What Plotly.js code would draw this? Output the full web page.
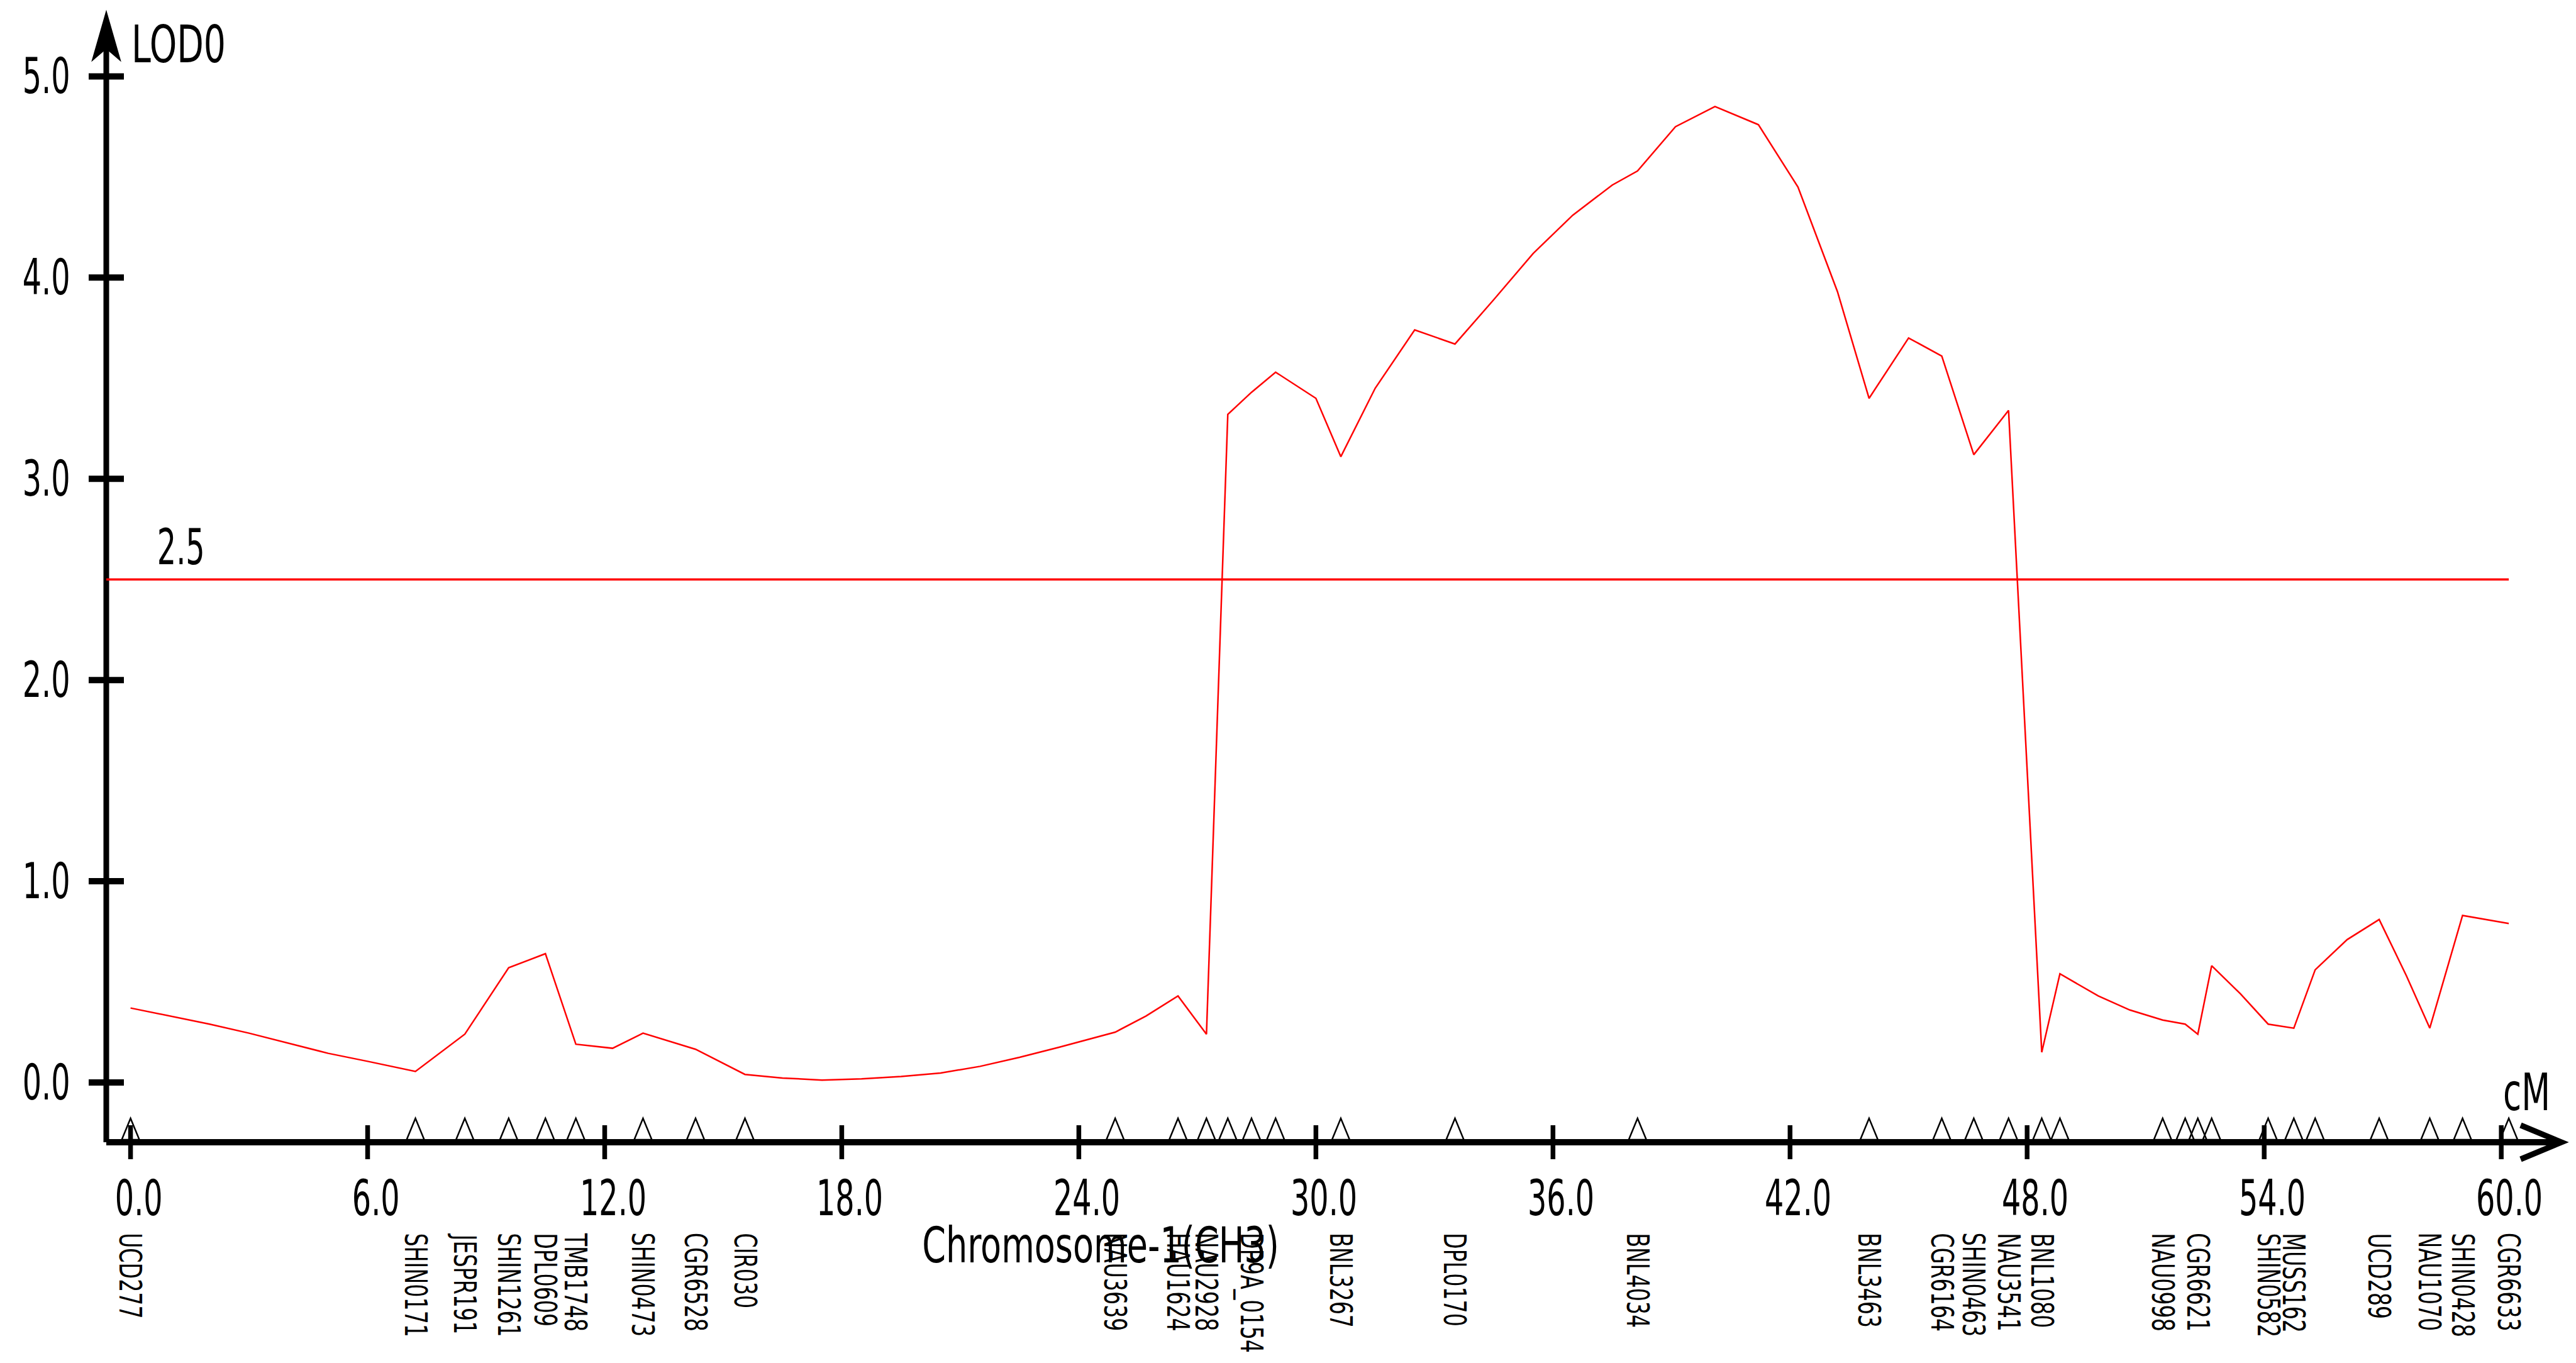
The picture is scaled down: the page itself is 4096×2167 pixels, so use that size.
<!DOCTYPE html>
<html>
<head>
<meta charset="utf-8">
<script src="https://cdn.plot.ly/plotly-3.0.1.min.js"></script>
<style>
  html, body { margin: 0; padding: 0; background: #ffffff; }
  #chart { width: 4096px; height: 2167px; }
</style>
</head>
<body>
<div id="chart"></div>
<script>
// ---------------- data ----------------
const curveCM = [0.0, 1.0, 2.0, 3.0, 4.0, 5.0, 6.0, 7.21, 8.46, 9.57, 10.50, 11.27, 12.2, 12.97, 14.30, 15.55,
  16.5, 17.5, 18.5, 19.5, 20.5, 21.5, 22.5, 23.5, 24.92, 25.7, 26.51, 27.23, 27.77, 28.37, 28.98, 30.0, 30.63,
  31.5, 32.5, 33.52, 34.5, 35.5, 36.5, 37.5, 38.14, 39.1, 40.1, 41.2, 42.2, 43.2, 44.0, 45.0, 45.84, 46.65,
  47.53, 48.37, 48.83, 49.8, 50.6, 51.43, 52.0, 52.32, 52.67, 53.4, 54.1, 54.75, 55.29, 56.1, 56.91, 57.6,
  58.19, 59.02, 60.19];
const curveLOD = [0.37, 0.33, 0.29, 0.245, 0.195, 0.145, 0.105, 0.055, 0.24, 0.57, 0.64, 0.19, 0.17, 0.245, 0.165, 0.04,
  0.022, 0.012, 0.018, 0.03, 0.047, 0.08, 0.125, 0.175, 0.25, 0.33, 0.43, 0.24, 3.32, 3.43, 3.53, 3.40, 3.11,
  3.45, 3.74, 3.67, 3.89, 4.12, 4.31, 4.46, 4.53, 4.75, 4.85, 4.76, 4.45, 3.93, 3.40, 3.70, 3.61, 3.12,
  3.34, 0.15, 0.54, 0.43, 0.36, 0.31, 0.29, 0.24, 0.58, 0.44, 0.29, 0.27, 0.56, 0.71, 0.81, 0.53,
  0.27, 0.83, 0.79];

const markerCM = [0.0, 7.21, 8.46, 9.57, 10.50, 11.27, 12.97, 14.30, 15.55, 24.92, 26.51, 27.23, 27.77, 28.37, 28.98,
  30.63, 33.52, 38.14, 44.0, 45.84, 46.65, 47.53, 48.37, 48.83, 51.43, 52.0, 52.32, 52.67, 54.1, 54.75, 55.29,
  56.91, 58.19, 59.02, 60.19];
const markerNames = ["UCD277", "SHIN0171", "JESPR191", "SHIN1261", "DPL0609", "TMB1748", "SHIN0473", "CGR6528", "CIR030",
  "NAU3639", "HAU1624", "NAU2928", "", "DP9A_0154", "",
  "BNL3267", "DPL0170", "BNL4034", "BNL3463", "CGR6164", "SHIN0463", "NAU3541", "BNL1080", "", "NAU0998", "", "CGR6621", "",
  "SHIN0582", "MUSS162", "", "UCD289", "NAU1070", "SHIN0428", "CGR6633"];

const yTickVals = [0, 1, 2, 3, 4, 5];
const yTickText = ["0.0", "1.0", "2.0", "3.0", "4.0", "5.0"];
const xTickVals = [0, 6, 12, 18, 24, 30, 36, 42, 48, 54, 60];
const xTickText = ["0.0", "6.0", "12.0", "18.0", "24.0", "30.0", "36.0", "42.0", "48.0", "54.0", "60.0"];

const thresholdValue = 2.5;
const thresholdText = "2.5";
const yAxisName = "LOD0";
const xAxisUnit = "cM";
const chartTitle = "Chromosome-1(CH3)";

// ---------------- style ----------------
const FONT = "'DejaVu Sans Condensed', 'DejaVu Sans', sans-serif";
const X_RANGE = [-0.614, 61.573];
const Y_RANGE = [-0.297, 5.314];

const shapes = [];
const annotations = [];
const annFit = [];   // horizontal squeeze of each annotation text (narrow font look)

function addAnn(a, sx, origin) {
  annotations.push(a);
  annFit.push({sx: sx, origin: origin});
}

// axis lines
shapes.push({type: 'line', xref: 'paper', yref: 'paper', x0: 0, x1: 0, y0: 0, y1: 0.985,
  line: {color: '#000', width: 9}});
shapes.push({type: 'line', xref: 'paper', yref: 'paper', x0: 0, x1: 0.997, y0: 0, y1: 0,
  line: {color: '#000', width: 10}});
// y-axis arrow head (filled, notched)
shapes.push({type: 'path', xref: 'paper', yref: 'paper', xsizemode: 'pixel', ysizemode: 'pixel',
  xanchor: 0, yanchor: 1, path: 'M 0 0 L -21 -73 L 0 -55 L 21 -73 Z',
  fillcolor: '#000', line: {color: '#000', width: 3}});
// x-axis arrow head (open chevron)
shapes.push({type: 'path', xref: 'paper', yref: 'paper', xsizemode: 'pixel', ysizemode: 'pixel',
  xanchor: 1, yanchor: 0, path: 'M -68 27 L -3 0 L -68 -27',
  fillcolor: 'rgba(0,0,0,0)', line: {color: '#000', width: 9}});

// y ticks (crossing the axis)
yTickVals.forEach(function (v) {
  shapes.push({type: 'line', xref: 'paper', yref: 'y', xsizemode: 'pixel', xanchor: 0,
    x0: -28, x1: 28, y0: v, y1: v, line: {color: '#000', width: 10}});
});
// x ticks (crossing the axis)
xTickVals.forEach(function (v) {
  shapes.push({type: 'line', xref: 'x', yref: 'paper', ysizemode: 'pixel', yanchor: 0,
    x0: v, x1: v, y0: -27, y1: 27, line: {color: '#000', width: 7.5}});
});

// marker triangles
markerCM.forEach(function (p) {
  shapes.push({type: 'path', xref: 'x', yref: 'paper', xsizemode: 'pixel', ysizemode: 'pixel',
    xanchor: p, yanchor: 0, path: 'M -14 4 L 0 38 L 14 4 Z',
    fillcolor: 'rgba(0,0,0,0)', line: {color: '#000', width: 2.5}});
});

// threshold line
shapes.push({type: 'line', xref: 'x', yref: 'y', x0: X_RANGE[0], x1: markerCM[markerCM.length - 1],
  y0: thresholdValue, y1: thresholdValue, line: {color: '#ff0000', width: 3.5}});

// y tick labels
yTickVals.forEach(function (v, i) {
  addAnn({text: yTickText[i], xref: 'paper', x: 0, xanchor: 'right', xshift: -55,
    yref: 'y', y: v, yanchor: 'middle', showarrow: false,
    font: {family: FONT, size: 78, color: '#000'}}, 0.68, 'right');
});
// x tick labels
xTickVals.forEach(function (v, i) {
  addAnn({text: xTickText[i], xref: 'x', x: v, xanchor: 'center', xshift: 13,
    yref: 'paper', y: 0, yanchor: 'middle', yshift: -89, showarrow: false,
    font: {family: FONT, size: 78, color: '#000'}}, 0.68, 'center');
});
// marker labels (rotated, reading downwards)
markerCM.forEach(function (p, i) {
  if (!markerNames[i]) return;
  addAnn({text: markerNames[i], xref: 'x', x: p, xanchor: 'center',
    yref: 'paper', y: 0, yanchor: 'top', yshift: -142, textangle: 90, showarrow: false,
    font: {family: FONT, size: 50, color: '#000'}}, 0.74, 'left');
});
// axis names
addAnn({text: yAxisName, xref: 'paper', x: 0, xanchor: 'left', xshift: 38,
  yref: 'paper', y: 1, yanchor: 'middle', yshift: -49, showarrow: false,
  font: {family: FONT, size: 82, color: '#000'}}, 0.75, 'left');
addAnn({text: xAxisUnit, xref: 'paper', x: 1, xanchor: 'left', xshift: -98,
  yref: 'paper', y: 0, yanchor: 'middle', yshift: 80, showarrow: false,
  font: {family: FONT, size: 82, color: '#000'}}, 0.72, 'left');
// threshold label
addAnn({text: thresholdText, xref: 'paper', x: 0, xanchor: 'center', xshift: 119,
  yref: 'y', y: thresholdValue, yanchor: 'middle', yshift: 51, showarrow: false,
  font: {family: FONT, size: 78, color: '#000'}}, 0.68, 'center');

const TITLE_SQUEEZE = 0.77;

const traces = [{
  type: 'scatter', mode: 'lines', x: curveCM, y: curveLOD,
  line: {color: '#ff0000', width: 2.5}, hoverinfo: 'skip', showlegend: false, cliponaxis: false
}];

const layout = {
  width: 4096, height: 2167,
  paper_bgcolor: '#ffffff', plot_bgcolor: '#ffffff',
  margin: {l: 169, r: 20, t: 21, b: 351, pad: 0},
  showlegend: false,
  title: {text: chartTitle, font: {family: FONT, size: 78, color: '#000'},
    xref: 'container', yref: 'container', x: 1750 / 4096, y: 1 - 1980 / 2167,
    xanchor: 'center', yanchor: 'middle'},
  xaxis: {range: X_RANGE, showgrid: false, zeroline: false, showline: false, showticklabels: false,
    ticks: '', fixedrange: true},
  yaxis: {range: Y_RANGE, showgrid: false, zeroline: false, showline: false, showticklabels: false,
    ticks: '', fixedrange: true},
  shapes: shapes,
  annotations: annotations
};

function squeeze(el, sx, origin) {
  if (!el) return;
  const b = el.getBBox();
  const ox = origin === 'left' ? b.x : (origin === 'right' ? b.x + b.width : b.x + b.width / 2);
  const prev = el.getAttribute('transform') || '';
  el.setAttribute('transform', (prev + ' translate(' + ox + ',0) scale(' + sx + ',1) translate(' + (-ox) + ',0)').trim());
}

Plotly.newPlot('chart', traces, layout, {displayModeBar: false, staticPlot: true}).then(function (gd) {
  gd.querySelectorAll('g.annotation').forEach(function (g) {
    const idx = +g.getAttribute('data-index');
    const spec = annFit[idx];
    if (!spec) return;
    squeeze(g.querySelector('text.annotation-text'), spec.sx, spec.origin);
  });
  squeeze(gd.querySelector('text.gtitle'), TITLE_SQUEEZE, 'center');
});
</script>
</body>
</html>
